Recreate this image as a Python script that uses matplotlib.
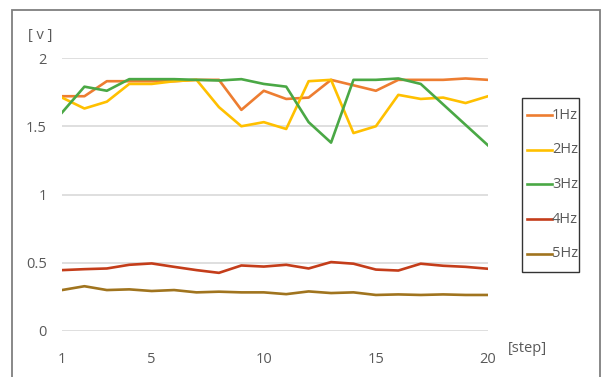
import matplotlib
matplotlib.use('Agg')
import matplotlib.pyplot as plt
from matplotlib.lines import Line2D
from matplotlib.patches import Rectangle

steps = list(range(1, 21))
hz1 = [1.72, 1.72, 1.83, 1.83, 1.83, 1.83, 1.84, 1.84, 1.62, 1.76,
       1.70, 1.71, 1.84, 1.80, 1.76, 1.84, 1.84, 1.84, 1.85, 1.84]
hz2 = [1.71, 1.63, 1.68, 1.81, 1.81, 1.83, 1.84, 1.64, 1.50, 1.53,
       1.48, 1.83, 1.84, 1.45, 1.50, 1.73, 1.70, 1.71, 1.67, 1.72]
hz3 = [1.60, 1.79, 1.76, 1.845, 1.845, 1.845, 1.84, 1.835, 1.845, 1.81,
       1.79, 1.53, 1.38, 1.84, 1.84, 1.85, 1.81, 1.66, 1.51, 1.36]
hz4 = [0.446, 0.453, 0.458, 0.485, 0.495, 0.47, 0.446, 0.426, 0.48, 0.472,
       0.485, 0.458, 0.505, 0.493, 0.45, 0.443, 0.493, 0.478, 0.47, 0.456]
hz5 = [0.30, 0.328, 0.30, 0.305, 0.293, 0.30, 0.283, 0.288, 0.283, 0.283,
       0.27, 0.29, 0.278, 0.283, 0.264, 0.268, 0.264, 0.268, 0.264, 0.264]

labels = ['1Hz', '2Hz', '3Hz', '4Hz', '5Hz']
colors = ['#ED7D31', '#FFC000', '#4AA845', '#C43D1A', '#A0741E']
x_ticks = [1, 5, 10, 15, 20]
y_ticks = [0, 0.5, 1, 1.5, 2]

plt.rcParams['font.family'] = ['Open Sans', 'DejaVu Sans']
text_color = '#595959'
lw = 1.9

W, H = 603, 377
fig = plt.figure(figsize=(W / 100, H / 100), dpi=100)
ax = fig.add_axes([62 / W, (H - 331) / H, (488 - 62) / W, (331 - 58) / H])

for series, lab, col in zip([hz1, hz2, hz3, hz4, hz5], labels, colors):
    ax.plot(steps, series, color=col, linewidth=lw, label=lab,
            solid_joinstyle='round')

ax.set_xlim(1, 20)
ax.set_ylim(0, 2)
ax.set_xticks(x_ticks)
ax.set_yticks(y_ticks)
ax.set_yticklabels(['0', '0.5', '1', '1.5', '2'])
ax.grid(axis='y', color='#D9D9D9', linewidth=1.2)
ax.set_axisbelow(True)
for s in ax.spines.values():
    s.set_visible(False)
ax.tick_params(axis='both', length=0, labelsize=10.5, labelcolor=text_color)
ax.tick_params(axis='x', pad=15)
ax.tick_params(axis='y', pad=11)

fig.text(40 / W, 1 - 36 / H, '[ v ]', ha='center', va='center',
         fontsize=10.5, color=text_color)
fig.text(527 / W, 1 - 348 / H, '[step]', ha='center', va='center',
         fontsize=10.5, color=text_color)

# legend box on the right, entries drawn by hand
fig.patches.append(Rectangle((522 / W, 1 - 272 / H), (579 - 522) / W,
                             (272 - 98) / H, transform=fig.transFigure,
                             fill=False, edgecolor='#333333', linewidth=1.0))
for i, (lab, col) in enumerate(zip(labels, colors)):
    y = 1 - (115 + 34.7 * i) / H
    fig.add_artist(Line2D([527 / W, 552 / W], [y, y], color=col,
                          linewidth=lw, transform=fig.transFigure))
    fig.text(552 / W, y, lab, ha='left', va='center', fontsize=10.5,
             color=text_color)

# outer chart border, open at the bottom
fig.patches.append(Rectangle((12 / W, -0.05), (600 - 12) / W, 1.05 - 10 / H,
                             transform=fig.transFigure, fill=False,
                             edgecolor='#7F7F7F', linewidth=1.3))

fig.savefig('out.png', dpi=100)
